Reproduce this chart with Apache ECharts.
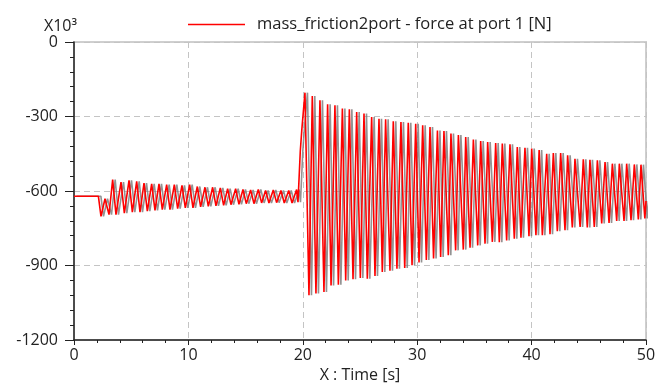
<!DOCTYPE html>
<html>
<head>
<meta charset="utf-8">
<script src="https://cdn.jsdelivr.net/npm/echarts@6/dist/echarts.min.js"></script>
<style>
  html, body { margin: 0; padding: 0; background: #fff; }
  #chart { width: 666px; height: 385px; }
</style>
</head>
<body>
<div id="chart"></div>
<script>
// force values are in units of 10^3 N
const seriesName = "mass_friction2port - force at port 1 [N]";

// steady part and the small stick-slip oscillation (0 .. 19.6 s)
const calmTime = [0, 2.13, 2.36, 2.71, 3.06, 3.38, 3.67, 4.11, 4.40, 4.81, 5.10, 5.48, 5.77, 6.12, 6.41,
  6.79, 7.08, 7.43, 7.72, 8.10, 8.39, 8.77, 9.06, 9.44, 9.73, 10.11, 10.40, 10.78, 11.07, 11.45, 11.74,
  12.12, 12.41, 12.79, 13.08, 13.43, 13.72, 14.13, 14.42, 14.77, 15.06, 15.44, 15.73, 16.11, 16.40,
  16.75, 17.04, 17.42, 17.71, 18.09, 18.38, 18.77, 19.06, 19.46, 19.58];
const calmForce = [-621, -621, -702, -631, -695, -554, -695, -564, -689, -557, -685, -561, -685, -568, -681,
  -571, -678, -571, -675, -574, -675, -574, -671, -577, -668, -574, -668, -582, -664, -585, -662,
  -585, -660, -588, -658, -591, -655, -591, -654, -594, -651, -596, -651, -594, -648,
  -598, -648, -596, -647, -598, -648, -598, -648, -594, -645];

// jump at ~20 s
const kickTime = [19.78, 19.92];
const kickForce = [-440, -350];

// large decaying oscillation (20 .. 50 s)
const peakTime = [20.19, 20.83, 21.50, 22.17, 22.81, 23.46, 24.07, 24.71, 25.35, 26.02, 26.66, 27.24,
  27.91, 28.58, 29.22, 29.87, 30.48, 31.12, 31.77, 32.34, 32.95, 33.60, 34.24, 34.91, 35.55, 36.16,
  36.86, 37.44, 38.11, 38.75, 39.42, 40.01, 40.66, 41.32, 41.90, 42.54, 43.15, 43.79, 44.52, 45.10,
  45.75, 46.42, 47.06, 47.67, 48.31, 48.98, 49.56];
const peakForce = [-204, -218, -235, -251, -255, -268, -271, -282, -288, -302, -309, -311,
  -319, -322, -325, -329, -335, -342, -356, -358, -369, -375, -383, -393, -399, -403,
  -407, -409, -412, -423, -426, -429, -435, -450, -447, -447, -456, -470, -472, -474,
  -476, -483, -490, -490, -490, -493, -494];
const troughTime = [20.54, 21.15, 21.85, 22.47, 23.11, 23.75, 24.39, 25.03, 25.64, 26.31, 26.95, 27.62,
  28.23, 28.91, 29.55, 30.16, 30.80, 31.43, 32.05, 32.72, 33.36, 34.03, 34.62, 35.29, 35.93, 36.57,
  37.18, 37.82, 38.49, 39.07, 39.77, 40.38, 40.94, 41.61, 42.25, 42.92, 43.56, 44.24, 44.87, 45.48,
  46.13, 46.77, 47.44, 48.08, 48.69, 49.33, 49.90, 50.0];
const troughForce = [-1020, -1013, -1007, -980, -977, -960, -955, -950, -953, -942, -926, -921,
  -913, -910, -899, -888, -878, -872, -866, -859, -839, -836, -828, -819, -812, -805,
  -806, -799, -792, -788, -782, -778, -778, -774, -762, -758, -747, -745, -747, -745,
  -731, -729, -721, -721, -718, -715, -711, -640];

const xTicks = [0, 10, 20, 30, 40, 50];
const yTicks = [0, -300, -600, -900, -1200];

function pairs(ts, vs) { return ts.map((t, i) => [t, vs[i]]); }
const points = pairs(calmTime, calmForce)
  .concat(pairs(kickTime, kickForce))
  .concat(pairs(peakTime, peakForce))
  .concat(pairs(troughTime, troughForce))
  .sort((a, b) => a[0] - b[0]);

const font = "'Open Sans', 'Noto Sans', sans-serif";
const chart = echarts.init(document.getElementById("chart"), null, { renderer: "canvas" });

chart.setOption({
  animation: false,
  backgroundColor: "#fff",
  textStyle: { fontFamily: font },
  grid: {
    left: 74, right: 20, top: 42, bottom: 45,
    outerBoundsMode: "none",
    show: true, borderColor: "#cfcfcf", borderWidth: 2
  },
  legend: {
    left: 183, top: 11,
    icon: "rect",
    itemWidth: 57, itemHeight: 1.3,
    data: [seriesName],
    itemStyle: { color: "#ff0000", borderWidth: 0, shadowColor: "transparent", shadowOffsetX: 0 },
    lineStyle: { color: "#ff0000", width: 1, shadowColor: "transparent", shadowOffsetX: 0 },
    textStyle: { fontFamily: font, fontSize: 16.5, color: "#222", padding: [0, 0, 0, 7] }
  },
  xAxis: {
    type: "value",
    min: xTicks[0], max: xTicks[xTicks.length - 1], interval: 10,
    name: "X : Time [s]",
    nameLocation: "middle", nameGap: 27,
    nameTextStyle: { fontFamily: font, fontSize: 16, color: "#222" },
    axisLine: { onZero: false, lineStyle: { color: "#222", width: 1.5 } },
    axisTick: { length: 5, lineStyle: { color: "#222" } },
    minorTick: { show: true, splitNumber: 5, length: 3, lineStyle: { color: "#222" } },
    axisLabel: { fontFamily: font, fontSize: 16, color: "#222", margin: 7 },
    splitLine: { show: true, lineStyle: { color: "#c4c4c4", type: [6, 4], width: 1 } }
  },
  yAxis: {
    type: "value",
    min: yTicks[yTicks.length - 1], max: yTicks[0], interval: 300,
    name: "X10³",
    nameLocation: "end", nameGap: 4,
    nameTextStyle: { fontFamily: font, fontSize: 16, color: "#222", align: "right", padding: [0, -3, 0, 0] },
    axisLine: { show: true, onZero: false, lineStyle: { color: "#222", width: 1.5 } },
    axisTick: { show: true, length: 9, lineStyle: { color: "#222" } },
    minorTick: { show: true, splitNumber: 5, length: 4, lineStyle: { color: "#222" } },
    axisLabel: { fontFamily: font, fontSize: 16, color: "#222", margin: 16, formatter: (v) => String(v) },
    splitLine: { show: true, lineStyle: { color: "#c4c4c4", type: [6, 4], width: 1 } }
  },
  series: [{
    name: seriesName,
    type: "line",
    data: points,
    symbol: "none",
    color: "#ff0000",
    lineStyle: {
      color: "#ff0000", width: 1.6,
      shadowColor: "rgba(120,120,120,0.8)", shadowOffsetX: 2.5, shadowBlur: 0
    }
  }]
});
</script>
</body>
</html>
